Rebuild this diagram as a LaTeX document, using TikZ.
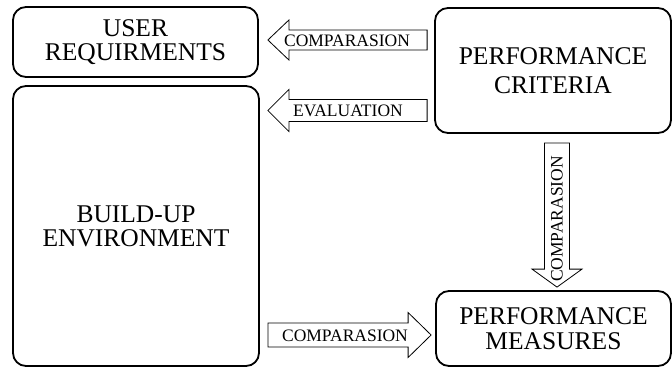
\documentclass[tikz,border=0pt]{standalone}
\usepackage{fontspec}
\setmainfont{Liberation Serif}
\usetikzlibrary{calc}
\newcommand\blockarr[5]{% from, to, shaft half, head half, head len
  \coordinate (hbase) at ($(#2)!#5!(#1)$);
  \draw[arrowline] ($(#1)!#3!90:(#2)$) -- ($(hbase)!#3!90:(#2)$) -- ($(hbase)!#4!90:(#2)$)
    -- (#2) -- ($(hbase)!#4!-90:(#2)$) -- ($(hbase)!#3!-90:(#2)$) -- ($(#1)!#3!-90:(#2)$) -- cycle;
}
\begin{document}
\begin{tikzpicture}[x=1pt,y=-1pt,
  box/.style={draw, line width=1.8pt, rounded corners=13pt, inner sep=0pt, align=center},
  boxfont/.style={font=\fontsize{25.5}{#1}\selectfont},
  arrowline/.style={draw=black, line width=0.8pt, fill=white},
  lab/.style={inner sep=0pt, font=\fontsize{17.5}{20}\selectfont}]
\useasboundingbox (0,0) rectangle (672,369);
\node[box, boxfont=23.5, minimum width=245pt, minimum height=70pt] (ur) at (135.5,42) {USER\\REQUIRMENTS};
\node[box, boxfont=24, minimum width=246pt, minimum height=280pt] (be) at (136,226) {BUILD-UP\\ENVIRONMENT};
\node[box, boxfont=29, minimum width=236pt, minimum height=125pt] (pc) at (553,70.5) {PERFORMANCE\\CRITERIA};
\node[box, boxfont=25.5, minimum width=235pt, minimum height=75pt] (pm) at (553.5,328.5) {PERFORMANCE\\MEASURES};
% arrow end points, tied to the boxes
\coordinate (a1s) at ($(pc.west |- ur.east)+(-7,-2)$);
\coordinate (a1t) at ($(ur.east)+(9,-2)$);
\coordinate (a2s) at ($(pc.west)+(-7,40)$);
\coordinate (a2t) at ($(be.east |- a2s)+(8,0)$);
\coordinate (a3s) at ($(be.east |- pm.west)+(8,6.5)$);
\coordinate (a3t) at ($(pm.west)+(-4,6.5)$);
\coordinate (a4s) at ($(pc.south)+(4,9)$);
\coordinate (a4t) at ($(pm.north)+(3.5,-3)$);
\blockarr{a1s}{a1t}{10pt}{20pt}{21pt}
\blockarr{a2s}{a2t}{11pt}{21pt}{21pt}
\blockarr{a3s}{a3t}{12pt}{22.5pt}{23pt}
\blockarr{a4s}{a4t}{12.5pt}{25pt}{18pt}
\node[lab] (l1) at (347,41) {COMPARASION};
\node[lab] (l2) at (348,111) {EVALUATION};
\node[lab] (l3) at (345,336) {COMPARASION};
\node[lab, rotate=90] (l4) at (557,219) {COMPARASION};
\end{tikzpicture}
\end{document}
